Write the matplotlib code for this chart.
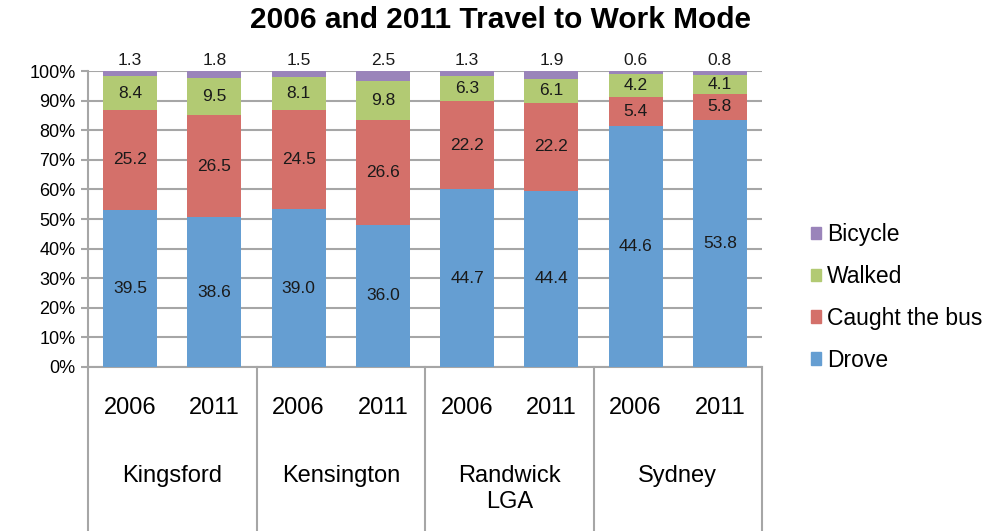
import matplotlib.pyplot as plt
import numpy as np
from matplotlib.patches import Patch

plt.rcParams["font.family"] = ["Liberation Sans", "DejaVu Sans"]

places = ["Kingsford", "Kensington", "Randwick\nLGA", "Sydney"]
years = ["2006", "2011"]

drove = [39.5, 38.6, 39.0, 36.0, 44.7, 44.4, 44.6, 53.8]
bus = [25.2, 26.5, 24.5, 26.6, 22.2, 22.2, 5.4, 5.8]
walked = [8.4, 9.5, 8.1, 9.8, 6.3, 6.1, 4.2, 4.1]
bicycle = [1.3, 1.8, 1.5, 2.5, 1.3, 1.9, 0.6, 0.8]

modes = ["Drove", "Caught the bus", "Walked", "Bicycle"]
colors = ["#659ED2", "#D4706A", "#B2CA73", "#9A84BA"]
grid_col = "#A6A6A6"

fig = plt.figure(figsize=(10, 5.31), dpi=100)
ax = fig.add_axes([0.088, 0.309, 0.674, 0.557])

series = np.array([drove, bus, walked, bicycle])
totals = series.sum(axis=0)
shares = series / totals * 100
x = np.arange(len(drove))

bottom = np.zeros(len(x))
for i, (vals, raw) in enumerate(zip(shares, series)):
    ax.bar(x, vals, 0.64, bottom=bottom, color=colors[i], zorder=3)
    for xi, b, v, r in zip(x, bottom, vals, raw):
        if i == 3:
            ax.text(xi, 100 + 1.2, f"{r:.1f}", ha="center", va="bottom",
                    fontsize=12.5, color="#1a1a1a")
        else:
            ax.text(xi, b + v / 2, f"{r:.1f}", ha="center", va="center",
                    fontsize=12.5, color="#1a1a1a", zorder=4)
    bottom += vals

ax.set_xlim(-0.5, len(x) - 0.5)
ax.set_ylim(0, 100)
ax.set_yticks(range(0, 101, 10))
ax.set_yticklabels([f"{v}%" for v in range(0, 101, 10)], fontsize=13)
ax.yaxis.grid(True, color=grid_col, linewidth=1.5, zorder=0)
ax.tick_params(axis="y", length=5, width=1.5, color=grid_col, pad=4)
ax.set_xticks([])
for side in ["top", "right"]:
    ax.spines[side].set_visible(False)
for side in ["left", "bottom"]:
    ax.spines[side].set_color(grid_col)
    ax.spines[side].set_linewidth(1.5)

# category axis box below the bars
trans = ax.get_xaxis_transform()
for b in [-0.5, 1.5, 3.5, 5.5, 7.5]:
    ax.plot([b, b], [0, -0.56], transform=trans, color=grid_col,
            linewidth=1.5, clip_on=False)
for xi in x:
    ax.text(xi, -0.139, years[xi % 2], transform=trans, ha="center",
            va="center", fontsize=17)
for g, name in enumerate(places):
    ax.text(2 * g + 0.5, -0.33, name, transform=trans, ha="center",
            va="top", fontsize=17, linespacing=1.25)

fig.text(0.5, 0.962, "2006 and 2011 Travel to Work Mode", ha="center",
         va="center", fontsize=21.5, fontweight="bold")

handles = [Patch(color=c, label=m) for m, c in zip(modes, colors)][::-1]
fig.legend(handles=handles, loc="center left", bbox_to_anchor=(0.79, 0.44),
           frameon=False, fontsize=16.5, handlelength=0.45, handleheight=0.45,
           handletextpad=0.25, labelspacing=0.82)

fig.savefig("out.png", dpi=100)
